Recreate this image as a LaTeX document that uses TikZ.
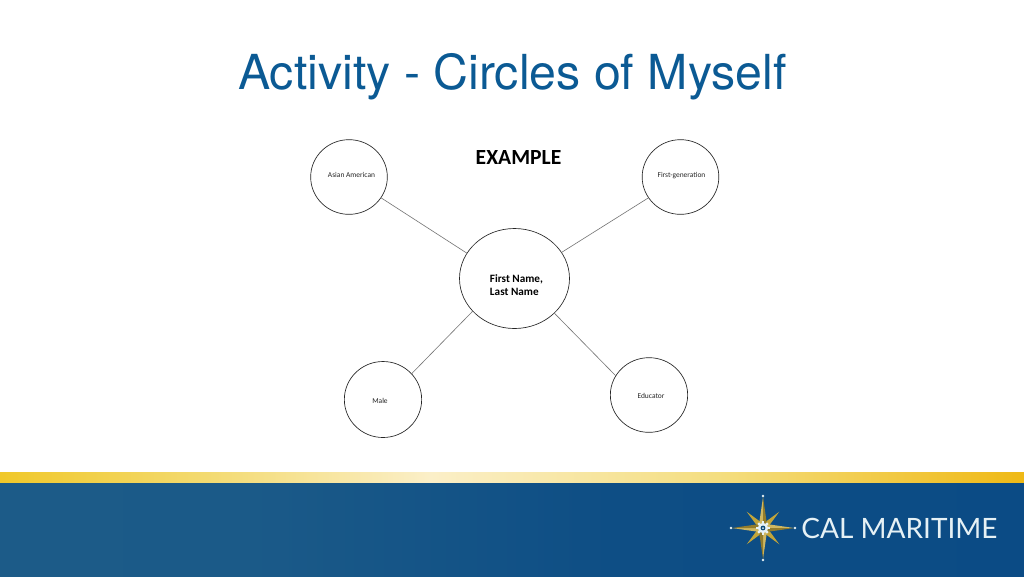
\documentclass[tikz,border=0pt]{standalone}
\usepackage{fontspec}
\setmainfont{Carlito}
\newfontfamily\titlefont{TeX Gyre Heros}
\newfontfamily\logofont{Lato}
\usetikzlibrary{shapes.geometric}
\definecolor{titleblue}{HTML}{0B5A94}
\definecolor{logogold}{HTML}{C2A53A}
\definecolor{logopale}{HTML}{E6F1F5}
\definecolor{barA}{HTML}{F0C82A}
\definecolor{barB}{HTML}{F3DA70}
\definecolor{barC}{HTML}{FBEFC8}
\definecolor{barD}{HTML}{F4DE80}
\definecolor{barE}{HTML}{EFB915}
\definecolor{bandA}{HTML}{1C5B88}
\definecolor{bandB}{HTML}{1B5A88}
\definecolor{bandC}{HTML}{0E4E85}
\definecolor{bandD}{HTML}{0B4B85}
\pgfdeclarehorizontalshading{barshade}{100bp}{
color(0bp)=(barA);
color(25bp)=(barA);
color(35bp)=(barB);
color(46bp)=(barC);
color(60bp)=(barD);
color(75bp)=(barE);
color(100bp)=(barE)}
\pgfdeclarehorizontalshading{bandshade}{100bp}{
color(0bp)=(bandA);
color(25bp)=(bandA);
color(37bp)=(bandB);
color(55bp)=(bandC);
color(75bp)=(bandD);
color(100bp)=(bandD)}
\begin{document}
\begin{tikzpicture}[x=0.75pt,y=-0.75pt,inner sep=0pt,outer sep=0pt,
circ/.style={draw=black!85,ellipse,line width=0.5pt},
link/.style={draw=black!55,line width=0.45pt},
small/.style={font=\fontsize{5.6}{6.5}\selectfont,text=black!85}]
\useasboundingbox (0,0) rectangle (1024,576);
\fill[white] (0,0) rectangle (1024,576);
% footer
\shade[shading=barshade] (0,472) rectangle (1024,483);
\shade[shading=bandshade] (0,483) rectangle (1024,576);
% heading
\node[font=\titlefont\fontsize{36.2}{40}\selectfont,text=titleblue] (title) at (512.5,77) {Activity - Circles of Myself};
\node[font=\fontsize{16.2}{18}\selectfont\bfseries] (example) at (518.5,157) {EXAMPLE};
% circles
\node[circ,minimum width=82.5pt,minimum height=75pt] (self) at (514.5,278.5) {};
\node[align=left,font=\fontsize{8.4}{10.2}\selectfont\bfseries] (selflabel) at (516.5,285) {First Name,\\Last Name};
\node[circ,minimum width=57.5pt,minimum height=56pt] (asian) at (349,177) {};
\node[small] (asianlabel) at (351.5,175) {Asian American};
\node[circ,minimum width=57.5pt,minimum height=56pt] (firstgen) at (680.5,177) {};
\node[small] (firstgenlabel) at (681.5,175.5) {First-generation};
\node[circ,minimum width=58pt,minimum height=57pt] (male) at (383,399.5) {};
\node[small] (malelabel) at (380,401) {Male};
\node[circ,minimum width=58pt,minimum height=56pt] (educator) at (649,395) {};
\node[small] (educatorlabel) at (651,395.5) {Educator};
\draw[link] (asian.-33) -- (self.152);
\draw[link] (firstgen.213) -- (self.29);
\draw[link] (male.42) -- (self.218);
\draw[link] (educator.150) -- (self.-41);
% logo
\coordinate (star) at (763,528);
\begin{scope}[shift={(star)}]
\foreach \a in {45,135,225,315} {
\fill[logogold,rotate=\a] (0,-3.5) -- (23,0) -- (0,3.5) -- cycle;
}
\foreach \a in {0,90,180,270} {
\fill[logogold!80!white,rotate=\a] (0,-4.5) -- (31,0) -- (0,0) -- cycle;
\fill[logogold!75!black,rotate=\a] (0,4.5) -- (31,0) -- (0,0) -- cycle;
\fill[logopale,rotate=\a] (32,0) circle (1.3);
}
\fill[logopale] (0,0) circle (5.2);
\foreach \a in {0,45,...,315} {
\fill[logopale,rotate=\a] (4.5,-1.2) rectangle (6.8,1.2);
}
\fill[titleblue!80!black] (0,0) circle (2.4);
\fill[logopale] (0,0) circle (1);
\end{scope}
\node[font=\logofont\fontsize{21}{24}\selectfont,text=logopale] (logotext) at (899.5,528) {CAL MARITIME};
\end{tikzpicture}
\end{document}
